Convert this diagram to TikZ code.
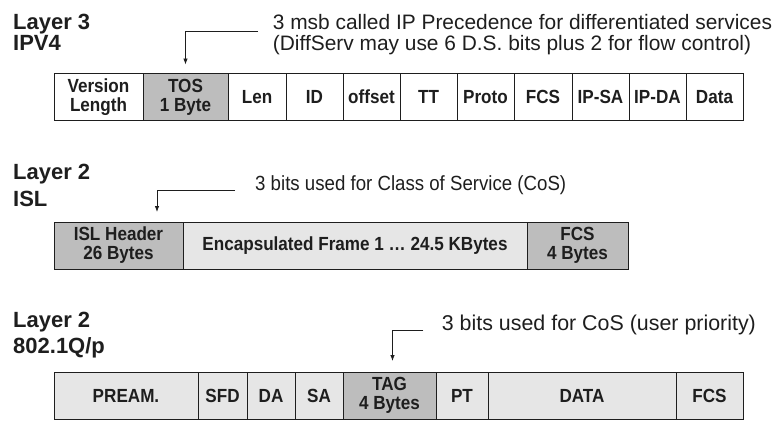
\documentclass[tikz,border=0pt]{standalone}
\usepackage{fontspec}
\setmainfont{Liberation Sans}
\newfontfamily\cellfont{Liberation Sans}[FakeStretch=0.9]
\newfontfamily\narrowfont{Liberation Sans}[FakeStretch=0.91]
\usetikzlibrary{arrows.meta,positioning}
\definecolor{hdrgray}{HTML}{BDBDBD}
\definecolor{paygray}{HTML}{E6E6E6}
\definecolor{inkgray}{HTML}{1E1E1E}
\tikzset{
  cell/.style={draw=inkgray, line width=0.9pt, anchor=north west, minimum height=47pt,
    inner sep=0pt, outer sep=0pt, align=center, text=inkgray,
    font=\cellfont\bfseries\fontsize{19}{19}\selectfont},
  title/.style={anchor=base west, inner sep=0pt, text=inkgray,
    font=\bfseries\fontsize{22}{24}\selectfont},
  note/.style={anchor=base west, inner sep=0pt, text=inkgray,
    font=\fontsize{20.9}{22}\selectfont},
  callout/.style={draw=inkgray, line width=0.8pt, -{Latex[length=6pt,width=4.5pt]}}
}

\begin{document}
\begin{tikzpicture}[x=1pt,y=-1pt]
\useasboundingbox (0,0) rectangle (778,420);

% layer 3 / IPv4 header
\node[title] (l3a) at (13,30) {Layer 3};
\node[title] (l3b) at (13,51) {IPV4};
\node[note] (n3a) at (272.7,29.5) {3 msb called IP Precedence for differentiated services};
\node[note] (n3b) at (272.7,51) {(DiffServ may use 6 D.S. bits plus 2 for flow control)};
\node[cell, minimum width=89pt] (ver) at (54,73.5) {Version\\Length};
\node[cell, minimum width=85pt, fill=hdrgray] (tos) at (143,73.5) {TOS\\1 Byte};
\node[cell, minimum width=58pt] (len) at (228,73.5) {Len};
\node[cell, minimum width=57pt] (id) at (286,73.5) {ID};
\node[cell, minimum width=57pt] (off) at (343,73.5) {offset};
\node[cell, minimum width=57pt] (tt) at (400,73.5) {TT};
\node[cell, minimum width=57pt] (proto) at (457,73.5) {Proto};
\node[cell, minimum width=58pt] (fcs3) at (514,73.5) {FCS};
\node[cell, minimum width=57pt] (ipsa) at (572,73.5) {IP-SA};
\node[cell, minimum width=57pt] (ipda) at (629,73.5) {IP-DA};
\node[cell, minimum width=57pt] (data3) at (686,73.5) {Data};
\coordinate (c3) at (258,31.7);
\draw[callout] (c3) -| ([yshift=9pt]tos.north);

% layer 2 / ISL
\node[title] (isla) at (13,179) {Layer 2};
\node[title] (islb) at (13,206) {ISL};
\node[note, font=\narrowfont\fontsize{20.5}{22}\selectfont] (nisl) at (255,190) {3 bits used for Class of Service (CoS)};
\node[cell, minimum width=129pt, fill=hdrgray] (isl) at (54,222) {ISL Header\\26 Bytes};
\node[cell, minimum width=344pt, fill=paygray] (enc) at (183,222) {Encapsulated Frame 1 \dots\ 24.5 KBytes};
\node[cell, minimum width=101pt, fill=hdrgray] (fcsi) at (527,222) {FCS\\4 Bytes};
\coordinate (ci) at (235,190);
\draw[callout] (ci) -| ([xshift=-26pt,yshift=10pt]isl.north east);

% layer 2 / 802.1Q/p
\node[title] (dqa) at (13,327) {Layer 2};
\node[title] (dqb) at (13,353) {802.1Q/p};
\node[note, font=\fontsize{21.4}{22}\selectfont] (ndq) at (441.7,330) {3 bits used for CoS (user priority)};
\node[cell, minimum width=144pt, fill=paygray] (pream) at (54,372) {PREAM.};
\node[cell, minimum width=49pt, fill=paygray] (sfd) at (198,372) {SFD};
\node[cell, minimum width=48pt, fill=paygray] (da) at (247,372) {DA};
\node[cell, minimum width=48pt, fill=paygray] (sa) at (295,372) {SA};
\node[cell, minimum width=93pt, fill=hdrgray] (tag) at (343,372) {TAG\\4 Bytes};
\node[cell, minimum width=52pt, fill=paygray] (pt) at (436,372) {PT};
\node[cell, minimum width=188pt, fill=paygray] (data) at (488,372) {DATA};
\node[cell, minimum width=67pt, fill=paygray] (fcsq) at (676,372) {FCS};
\coordinate (cq) at (423.3,330);
\draw[callout] (cq) -| ([xshift=3pt,yshift=11pt]tag.north);
\end{tikzpicture}
\end{document}
